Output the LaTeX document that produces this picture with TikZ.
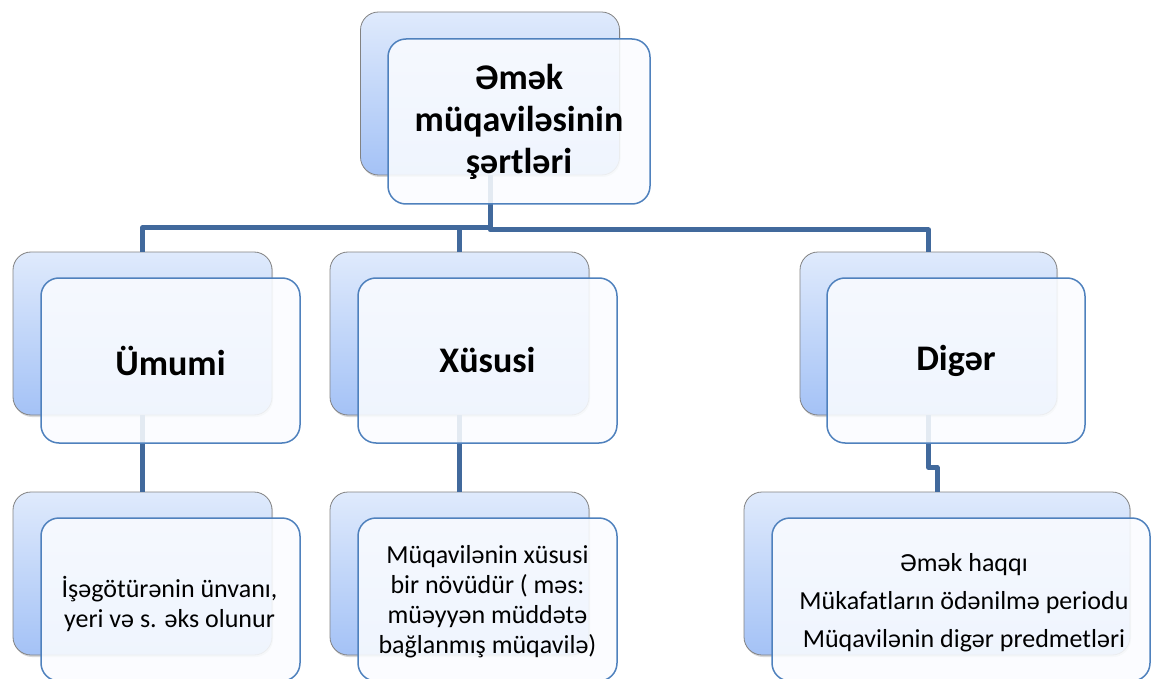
\documentclass[tikz,border=0pt]{standalone}
\usepackage{fontspec}
\setmainfont{Carlito}
\usetikzlibrary{shadows}
\definecolor{conncol}{RGB}{65,105,156}
\definecolor{frontborder}{RGB}{79,129,189}
\definecolor{backtop}{RGB}{223,234,252}
\definecolor{backbot}{RGB}{164,194,246}
\definecolor{backborder}{RGB}{130,130,130}
\definecolor{frontfill}{RGB}{250,252,255}
\tikzset{
 backbox/.style={draw=backborder, line width=0.8pt, rounded corners=18pt,
   top color=backtop, bottom color=backbot, minimum width=259pt,
   minimum height=163pt, inner sep=0pt,
   drop shadow={shadow xshift=1pt, shadow yshift=-2pt, opacity=0.3}},
 frontbox/.style={draw=frontborder, line width=1.5pt, rounded corners=18pt,
   fill=frontfill, fill opacity=0.88, text opacity=1, minimum width=259pt,
   minimum height=165pt, inner sep=0pt, align=center},
 conn/.style={draw=conncol, line width=5pt, line join=round},
 headtxt/.style={font=\fontsize{36}{42}\selectfont\bfseries},
 bodytxt/.style={font=\fontsize{26}{30}\selectfont, align=center, inner sep=0pt},
}
\begin{document}
\begin{tikzpicture}[x=1pt,y=-1pt]
\useasboundingbox (0,0) rectangle (1151,679);
% back boxes
\node[backbox] (topb) at (490,93.5) {};
\node[backbox] (umb) at (142.5,333.5) {};
\node[backbox] (xsb) at (459.5,333.5) {};
\node[backbox, minimum width=257pt] (dgb) at (928.5,333.5) {};
\node[backbox] (umbb) at (142.5,573.5) {};
\node[backbox] (xsbb) at (459.5,573.5) {};
\node[backbox, minimum width=386pt] (dgbb) at (937,573.5) {};
% connectors
\draw[conn] (topb.south) -- ++(0,52.5) -| (umb.north);
\draw[conn] (topb.south) -- ++(0,52.5) -| (xsb.north);
\draw[conn] (topb.south) -- ++(0,54.5) -| (dgb.north);
\draw[conn] (umb.south) -- (umbb.north);
\draw[conn] (xsb.south) -- (xsbb.north);
\draw[conn] (dgb.south) -- ++(0,52) -| (dgbb.north);
% front boxes
\node[frontbox, minimum width=262pt, headtxt] (topf) at (519,121.5) {Əmək\\müqaviləsinin\\şərtləri};
\node[frontbox, headtxt] (umf) at (170.5,360.5) {Ümumi};
\node[frontbox, headtxt] (xsf) at (487.5,360.5) {Xüsusi};
\node[frontbox, minimum width=258pt, headtxt] (dgf) at (956,360.5) {Digər};
\node[frontbox, minimum height=163pt] (umfb) at (170.5,599.5) {};
\node[frontbox, minimum height=163pt] (xsfb) at (487.5,599.5) {};
\node[frontbox, minimum width=378pt, minimum height=163pt] (dgfb) at (961,599.5) {};
% texts of the lower boxes
\node[bodytxt] (umtxt) at (169.5,604) {İşəgötürənin ünvanı,\\yeri və s. əks olunur};
\node[bodytxt] (xstxt) at (487.5,602) {Müqavilənin xüsusi\\bir növüdür ( məs:\\müəyyən müddətə\\bağlanmış müqavilə)};
\node[bodytxt] (dgtxt) at (964,602.5) {Əmək haqqı\\[8pt]Mükafatların ödənilmə periodu\\[8pt]Müqavilənin digər predmetləri};
\end{tikzpicture}
\end{document}
